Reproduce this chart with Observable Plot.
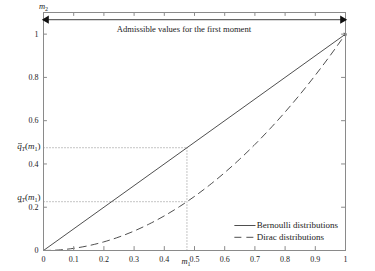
<!DOCTYPE html>
<html>
<head>
<meta charset="utf-8">
<script src="https://cdn.jsdelivr.net/npm/d3@7"></script>
<script src="https://cdn.jsdelivr.net/npm/@observablehq/plot@0.6"></script>
<style>
  html, body { margin: 0; padding: 0; background: #fff; }
  svg { font-family: "Liberation Serif", "DejaVu Serif", serif; }
</style>
</head>
<body>
<div id="chart"></div>
<script>
// ---- data ----
const xTicks = [0, 0.1, 0.2, 0.3, 0.4, 0.5, 0.6, 0.7, 0.8, 0.9, 1];
const yTicks = [0, 0.2, 0.4, 0.6, 0.8, 1];
const bernoulliM1 = [0, 1];
const bernoulliM2 = [0, 1];
const diracM1 = [0, 0.05, 0.1, 0.15, 0.2, 0.25, 0.3, 0.35, 0.4, 0.45, 0.5, 0.55, 0.6, 0.65, 0.7, 0.75, 0.8, 0.85, 0.9, 0.95, 1];
const diracM2 = [0, 0.0025, 0.01, 0.0225, 0.04, 0.0625, 0.09, 0.1225, 0.16, 0.2025, 0.25, 0.3025, 0.36, 0.4225, 0.49, 0.5625, 0.64, 0.7225, 0.81, 0.9025, 1];
const m1Value = 0.475;
const qUpper = 0.475;
const qLower = 0.2256;
const admissibleRange = [0, 1];
const admissibleLevel = 1.067;
const admissibleText = "Admissible values for the first moment";
const legendLabels = ["Bernoulli distributions", "Dirac distributions"];

const bern = bernoulliM1.map((x, i) => ({x, y: bernoulliM2[i]}));
const dirac = diracM1.map((x, i) => ({x, y: diracM2[i]}));

const gray = "#8a8a8a";
const ink = "#222";

const svg = Plot.plot({
  width: 375,
  height: 271,
  marginLeft: 43,
  marginRight: 30,
  marginTop: 12,
  marginBottom: 21,
  style: {fontFamily: "Liberation Serif, DejaVu Serif, serif", fontSize: "8px", color: ink, background: "#fff"},
  x: {domain: [0, 1]},
  y: {domain: [0, 1.1]},
  marks: [
    Plot.link([{x1: 0, y1: qUpper, x2: m1Value, y2: qUpper}, {x1: 0, y1: qLower, x2: m1Value, y2: qLower}, {x1: m1Value, y1: 0, x2: m1Value, y2: qUpper}],
      {x1: "x1", y1: "y1", x2: "x2", y2: "y2", stroke: gray, strokeWidth: 1, strokeDasharray: "1,2"}),
    Plot.line(bern, {x: "x", y: "y", stroke: ink, strokeWidth: 0.8, markerEnd: "arrow"}),
    Plot.line(dirac, {x: "x", y: "y", stroke: ink, strokeWidth: 0.8, strokeDasharray: "7,5", curve: "monotone-x"}),
    Plot.ruleX(xTicks.slice(1, -1), {x: d => d, y1: 0, y2: 0.018, stroke: gray}),
    Plot.ruleX(xTicks.slice(1, -1), {x: d => d, y1: 1.1, y2: 1.082, stroke: gray}),
    Plot.ruleY(yTicks.slice(1), {y: d => d, x1: 0, x2: 0.013, stroke: gray}),
    Plot.ruleY(yTicks.slice(1), {y: d => d, x1: 1, x2: 0.987, stroke: gray}),
    Plot.frame({stroke: gray}),
    Plot.axisX({ticks: xTicks, tickSize: 0, tickPadding: 6, tickFormat: d => String(d), fontSize: 8, fill: ink}),
    Plot.axisY({ticks: yTicks, tickSize: 0, tickPadding: 5, tickFormat: d => String(d), fontSize: 8, fill: ink}),
    Plot.link([{a: admissibleRange[0], b: admissibleRange[1]}], {x1: "a", x2: "b", y1: () => admissibleLevel, y2: () => admissibleLevel, stroke: "#666", strokeWidth: 1.2}),
    Plot.dot([admissibleRange[0]], {x: d => d, y: () => admissibleLevel, symbol: "triangle", rotate: -90, r: 3, fill: "#111", stroke: "none", dx: 3}),
    Plot.dot([admissibleRange[1]], {x: d => d, y: () => admissibleLevel, symbol: "triangle", rotate: 90, r: 3, fill: "#111", stroke: "none", dx: -3}),
    Plot.text([admissibleText], {x: () => 0.465, y: () => admissibleLevel, dy: 10, text: d => d, fontSize: 8.6, fill: ink}),
    Plot.text(["QUPPER"], {x: () => 0, y: () => qUpper, dx: -3, dy: -2, text: d => d, textAnchor: "end", fontSize: 9, fill: ink}),
    Plot.text(["QLOWER"], {x: () => 0, y: () => qLower, dx: -3, dy: -4.5, text: d => d, textAnchor: "end", fontSize: 9, fill: ink}),
    Plot.text(["MTWO"], {x: () => 0, y: () => 1.1, dy: -6, text: d => d, fontSize: 8.5, fill: ink}),
    Plot.text(["MONE"], {x: () => m1Value, y: () => 0, dy: 11, dx: -1, text: d => d, fontSize: 8.5, fill: ink}),
    Plot.link([{x1: 0.632, x2: 0.702, y: 0.1155}], {x1: "x1", x2: "x2", y1: "y", y2: "y", stroke: ink, strokeWidth: 0.8}),
    Plot.link([{x1: 0.632, x2: 0.702, y: 0.061}], {x1: "x1", x2: "x2", y1: "y", y2: "y", stroke: ink, strokeWidth: 0.8, strokeDasharray: "7,5"}),
    Plot.text([{t: legendLabels[0], y: 0.1155}, {t: legendLabels[1], y: 0.061}], {x: () => 0.706, y: "y", text: "t", textAnchor: "start", fontSize: 9, fill: ink})
  ]
});

function rich(el, parts) {
  const s = d3.select(el);
  s.text(null);
  for (const p of parts) {
    const t = s.append("tspan").text(p.t);
    if (p.i) t.attr("font-style", "italic");
    if (p.sub) t.attr("font-size", 6).attr("dy", p.dy);
    else if (p.dy) t.attr("dy", p.dy);
    if (p.deco) t.attr("class", "deco-" + p.deco);
  }
}
const richEls = [];
d3.select(svg).selectAll("text").each(function () {
  const c = this.textContent;
  if (c === "QUPPER" || c === "QLOWER") {
    rich(this, [
      {t: "q", i: true, deco: c === "QUPPER" ? "over" : "under"},
      {t: "T", i: true, sub: true, dy: 2},
      {t: "(", dy: -2},
      {t: "m", i: true},
      {t: "1", sub: true, dy: 2},
      {t: ")", dy: -2}
    ]);
    richEls.push(this);
  } else if (c === "MTWO") {
    rich(this, [{t: "m", i: true}, {t: "2", sub: true, dy: 2}]);
  } else if (c === "MONE") {
    rich(this, [{t: "m", i: true}, {t: "1", sub: true, dy: 2}]);
  }
});

document.getElementById("chart").appendChild(svg);

// over/under bars on q
for (const el of richEls) {
  const ext = el.getExtentOfChar(0);
  const kind = el.querySelector("tspan").getAttribute("class");
  const y = kind === "deco-over" ? ext.y + ext.height * 0.3 : ext.y + ext.height * 0.98;
  d3.select(el.parentNode).append("line")
    .attr("transform", el.getAttribute("transform"))
    .attr("x1", ext.x + 0.8).attr("x2", ext.x + ext.width + 0.3)
    .attr("y1", y).attr("y2", y)
    .attr("stroke", ink).attr("stroke-width", 0.6);
}
</script>
</body>
</html>
